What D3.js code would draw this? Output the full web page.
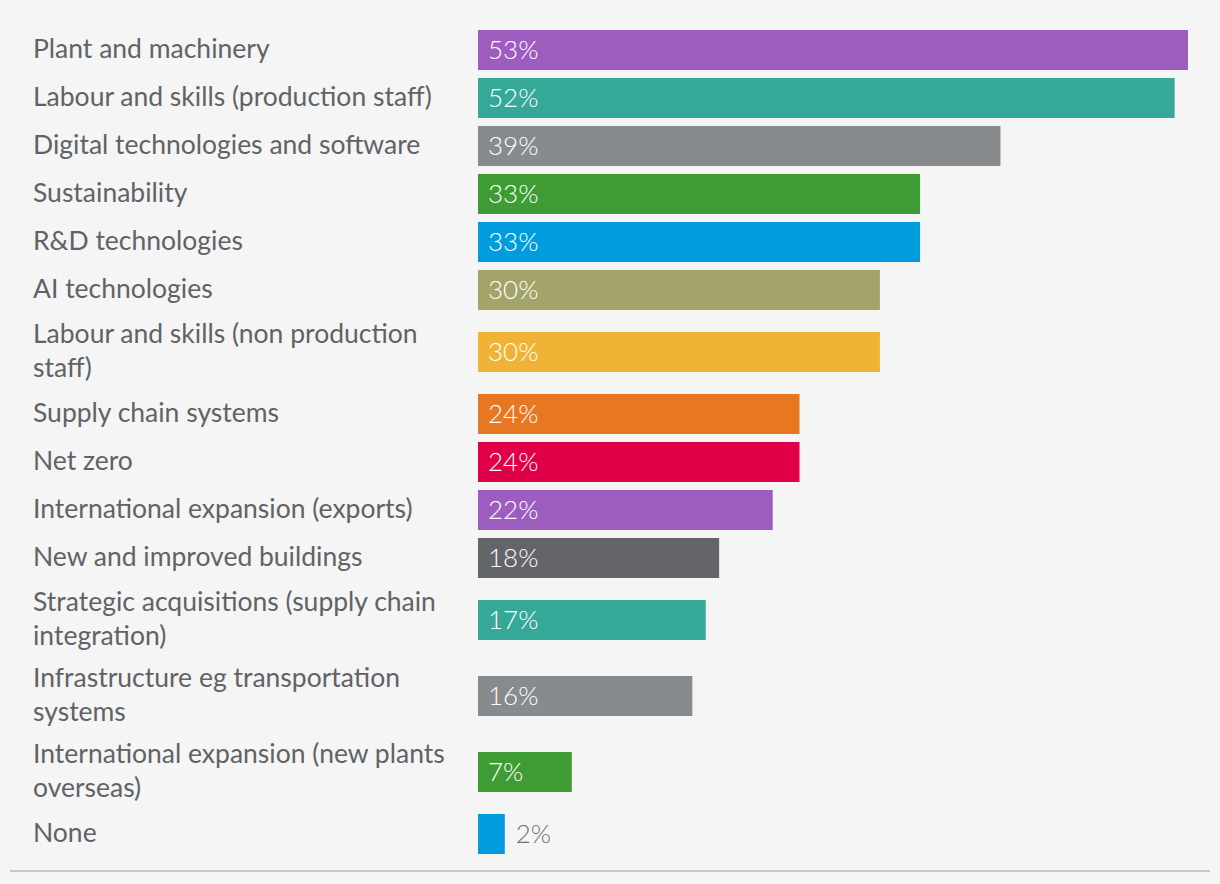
<!DOCTYPE html>
<html><head><meta charset="utf-8">
<script src="https://cdn.jsdelivr.net/npm/d3@7"></script>
<style>
html,body{margin:0;padding:0;background:#f5f5f5;}
svg{display:block;}
</style></head>
<body><svg id="chart" width="1220" height="884"></svg>
<script>
const categories = [
  "Plant and machinery",
  "Labour and skills (production staff)",
  "Digital technologies and software",
  "Sustainability",
  "R&D technologies",
  "AI technologies",
  "Labour and skills (non production staff)",
  "Supply chain systems",
  "Net zero",
  "International expansion (exports)",
  "New and improved buildings",
  "Strategic acquisitions (supply chain integration)",
  "Infrastructure eg transportation systems",
  "International expansion (new plants overseas)",
  "None"
];
const values = [53, 52, 39, 33, 33, 30, 30, 24, 24, 22, 18, 17, 16, 7, 2];
const colors = ["#9c5dbf", "#35a898", "#888b8e", "#3f9c35", "#009cdd", "#a2a46a", "#f0b336", "#e87722", "#e10047", "#9c5dbf", "#636569", "#35a898", "#888b8e", "#3f9c35", "#009cdd"];

const W = 1220, H = 884;
const svg = d3.select("#chart");
svg.append("rect").attr("width", W).attr("height", H).attr("fill", "#f5f5f5");

const labelX = 33, barX0 = 478, barXMax = 1188;
const barH = 40, gap = 8, lineH = 34, wrapWidth = 425;
const fontFam = "Lato, 'Open Sans', sans-serif";
const labelSize = 26.5;

const x = d3.scaleLinear().domain([0, d3.max(values)]).range([barX0, barXMax]);

// measure & wrap labels
const measure = svg.append("text").attr("font-family", fontFam).attr("font-size", labelSize).attr("visibility", "hidden");
function wrap(str) {
  const words = str.split(" ");
  const lines = [];
  let cur = "";
  words.forEach(w => {
    const test = cur ? cur + " " + w : w;
    measure.text(test);
    if (measure.node().getComputedTextLength() > wrapWidth && cur) {
      lines.push(cur); cur = w;
    } else cur = test;
  });
  if (cur) lines.push(cur);
  return lines;
}
const wrapped = categories.map(wrap);
measure.remove();

// vertical layout: row heights from line count
let yCursor = 30;
const rows = wrapped.map((lines, i) => {
  const extra = lines.length > 1 ? 14 : 0;
  const top = yCursor + extra;
  yCursor = top + barH + extra + gap;
  return { top, center: top + barH / 2 };
});

const g = svg.append("g");
const row = g.selectAll("g.row").data(categories).join("g").attr("class", "row");

row.append("rect")
  .attr("x", x(0))
  .attr("y", (d, i) => rows[i].top)
  .attr("width", (d, i) => x(values[i]) - x(0))
  .attr("height", barH)
  .attr("fill", (d, i) => colors[i]);

row.append("text")
  .attr("font-family", fontFam)
  .attr("font-size", labelSize)
  .attr("fill", "#606366")
  .attr("x", labelX)
  .attr("y", (d, i) => rows[i].center - 2 - (wrapped[i].length - 1) * lineH / 2)
  .attr("dominant-baseline", "central")
  .each(function (d, i) {
    const t = d3.select(this);
    wrapped[i].forEach((ln, j) => {
      t.append("tspan").attr("x", labelX).attr("dy", j === 0 ? 0 : lineH).text(ln);
    });
  });

row.append("text")
  .attr("font-family", fontFam)
  .attr("font-weight", 300)
  .attr("font-size", 26)
  .attr("dominant-baseline", "central")
  .attr("x", (d, i) => (x(values[i]) - x(0) > 60 ? x(0) + 10 : x(values[i]) + 11))
  .attr("y", (d, i) => rows[i].center - 1)
  .attr("fill", (d, i) => (x(values[i]) - x(0) > 60 ? "#ffffff" : "#6e7073"))
  .text((d, i) => values[i] + "%");

svg.append("line")
  .attr("x1", 10).attr("x2", 1210)
  .attr("y1", 871).attr("y2", 871)
  .attr("stroke", "#c8c8c8").attr("stroke-width", 2);
</script>
</body></html>
